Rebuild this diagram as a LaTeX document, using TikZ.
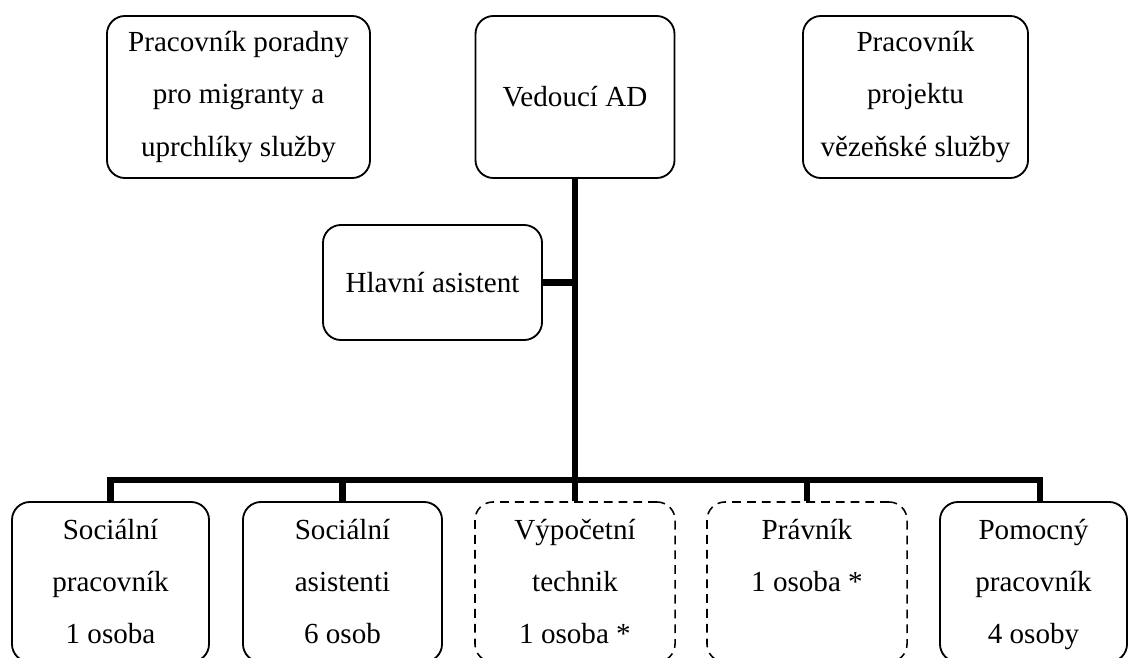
\documentclass[tikz,border=0pt]{standalone}
\usepackage{fontspec}
\setmainfont{Liberation Serif}
\usetikzlibrary{positioning,calc}

\newcommand{\topln}{\vphantom{Ý}}
\newcommand{\botln}{\vphantom{y}}

\begin{document}
\begin{tikzpicture}[
  x=0.025cm, y=-0.025cm,
  box/.style={rectangle, draw, line width=1.3pt, rounded corners=0.45cm,
              align=center, inner sep=2pt,
              font=\fontsize{20.7}{37}\selectfont},
  dbox/.style={box, dashed, line width=1.1pt, dash pattern=on 0.22cm off 0.15cm},
  conn/.style={line width=4.3pt, line join=miter}
]
\useasboundingbox (0,0) rectangle (1128,657);

% horni rada
\node[box, minimum width=6.575cm, minimum height=4.05cm] (poradna) at (238.5,97)
  {Pracovník poradny\\pro migranty a\\uprchlíky služby};
\node[box, minimum width=4.975cm, minimum height=4.05cm] (vedouci) at (575,97)
  {Vedoucí AD};
\node[box, minimum width=5.625cm, minimum height=4.05cm] (vezen) at (915.5,97)
  {Pracovník\\projektu\\vězeňské služby};

\node[box, minimum width=5.475cm, minimum height=2.875cm] (hlavni) at (432.5,282.5)
  {Hlavní asistent};

% dolni rada
\node[box, minimum width=4.925cm, minimum height=4cm] (socprac) at (110.5,582)
  {\topln Sociální\\pracovník\\1 osoba\botln};
\node[box, minimum width=4.975cm, minimum height=4cm] (socasis) at (342.5,582)
  {\topln Sociální\\asistenti\\6 osob\botln};
\node[dbox, minimum width=5cm, minimum height=4cm] (vypoc) at (575,582)
  {\topln Výpočetní\\technik\\1 osoba *\botln};
\node[dbox, minimum width=5cm, minimum height=4cm] (pravnik) at (807,582)
  {\topln Právník\\1 osoba *\\\botln};
\node[box, minimum width=4.675cm, minimum height=4cm] (pomoc) at (1033.5,582)
  {\topln Pomocný\\pracovník\\4 osoby\botln};

\coordinate (bar) at (575,480);
\coordinate (barR) at (1040,480);

\draw[conn] (vedouci.south) -- (vypoc.north);
\draw[conn] (hlavni.east) -- (hlavni.east -| vedouci.south);
\draw[conn] (socprac.north) |- (barR) -- (barR |- pomoc.north);
\draw[conn] (socasis.north) -- (socasis.north |- bar);
\draw[conn] (pravnik.north) -- (pravnik.north |- bar);
\end{tikzpicture}
\end{document}
